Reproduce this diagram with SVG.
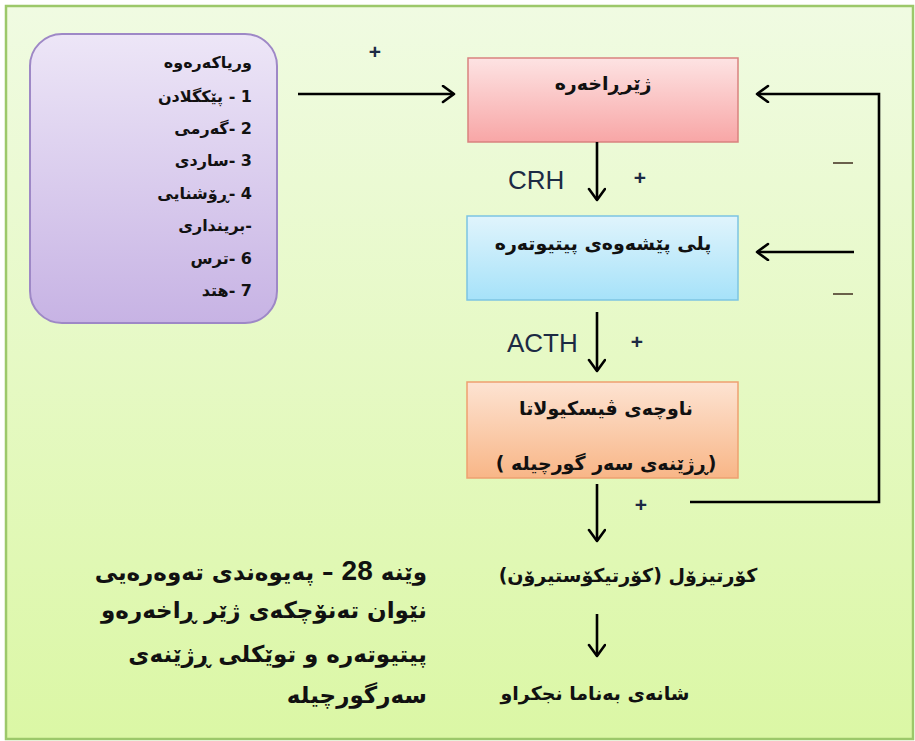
<svg xmlns="http://www.w3.org/2000/svg" width="915" height="741" viewBox="0 0 915 741">
<defs>
<linearGradient id="bg" x1="0" y1="0" x2="0" y2="1"><stop offset="0" stop-color="#f0fbe2"/><stop offset="1" stop-color="#dbf7a5"/></linearGradient>
<linearGradient id="gPurple" x1="0" y1="0" x2="0" y2="1"><stop offset="0" stop-color="#ede6f7"/><stop offset="1" stop-color="#c7b3e4"/></linearGradient>
<linearGradient id="gPink" x1="0" y1="0" x2="0" y2="1"><stop offset="0" stop-color="#fde3e3"/><stop offset="1" stop-color="#f8a6a6"/></linearGradient>
<linearGradient id="gBlue" x1="0" y1="0" x2="0" y2="1"><stop offset="0" stop-color="#e0f4fc"/><stop offset="1" stop-color="#a6e2f9"/></linearGradient>
<linearGradient id="gOrange" x1="0" y1="0" x2="0" y2="1"><stop offset="0" stop-color="#fde3d2"/><stop offset="1" stop-color="#f8b687"/></linearGradient>
<marker id="arr" markerUnits="userSpaceOnUse" markerWidth="20" markerHeight="20" refX="13" refY="9" orient="auto">
<path d="M2,1 L13,9 L2,17" fill="none" stroke="#000" stroke-width="2.6" stroke-linecap="round" stroke-linejoin="round"/>
</marker>
</defs>
<style>
.ku{font-family:"DejaVu Sans",sans-serif;font-weight:bold;font-size:16px;fill:#111;direction:rtl;unicode-bidi:embed}
.kb{font-family:"DejaVu Sans",sans-serif;font-weight:bold;font-size:19px;fill:#111;direction:rtl;unicode-bidi:embed}
.cap{font-family:"DejaVu Sans",sans-serif;font-weight:bold;font-size:23px;fill:#111;direction:rtl;unicode-bidi:embed}
.lat{font-family:"Liberation Sans",Arial,sans-serif;font-size:26px;fill:#1c2a44}
.pl{font-family:"Liberation Sans",Arial,sans-serif;font-size:21px;font-weight:bold;fill:#1c2a44}
.con{fill:none;stroke:#000;stroke-width:2.6}
.box{stroke-width:1.5}
</style>
<rect x="6" y="6" width="907" height="733" fill="url(#bg)" stroke="#9cc86a" stroke-width="2.5"/>

<g id="stimuli">
<rect x="30" y="34" width="247" height="289" rx="32" fill="url(#gPurple)" stroke="#9e88c6" stroke-width="2"/>
<text class="ku" x="252" y="68" text-anchor="start" direction="rtl">وریاکەرەوە</text>
<text class="ku" x="252" y="102" text-anchor="start" direction="rtl">1 - پێکگلادن</text>
<text class="ku" x="252" y="134" text-anchor="start" direction="rtl">2 -گەرمی</text>
<text class="ku" x="252" y="166" text-anchor="start" direction="rtl">3 -ساردی</text>
<text class="ku" x="252" y="199" text-anchor="start" direction="rtl">4 -ڕۆشنایی</text>
<text class="ku" x="252" y="231" text-anchor="start" direction="rtl">-برینداری</text>
<text class="ku" x="252" y="264" text-anchor="start" direction="rtl">6 -ترس</text>
<text class="ku" x="252" y="296" text-anchor="start" direction="rtl">7 -هتد</text>
</g>

<g id="hypothalamus">
<rect class="box" x="468" y="58" width="270" height="84" fill="url(#gPink)" stroke="#d9827f"/>
<text class="kb" x="603" y="90" text-anchor="middle" direction="rtl">ژێرڕاخەرە</text>
</g>

<g id="pituitary">
<rect class="box" x="467" y="216" width="271" height="84" fill="url(#gBlue)" stroke="#7cc4e2"/>
<text class="kb" x="603" y="250" text-anchor="middle" direction="rtl">پلی پێشەوەی پیتیوتەرە</text>
</g>

<g id="adrenal">
<rect class="box" x="467" y="382" width="271" height="96" fill="url(#gOrange)" stroke="#eea070"/>
<text class="kb" x="606" y="415" text-anchor="middle" direction="rtl">ناوچەی ڤیسکیولاتا</text>
<text class="kb" x="606" y="470" text-anchor="middle" direction="rtl">(ڕژێنەی سەر گورچیلە )</text>
</g>

<g id="cortisol">
<text class="kb" x="628" y="582" text-anchor="middle" direction="rtl">کۆرتیزۆل (کۆرتیکۆستیرۆن)</text>
</g>

<g id="target">
<text class="kb" x="595" y="700" text-anchor="middle" direction="rtl">شانەی بەناما نجکراو</text>
</g>

<g id="connectors">
<line class="con" x1="298" y1="94" x2="454" y2="94" marker-end="url(#arr)"/>
<line class="con" x1="597" y1="142" x2="597" y2="200" marker-end="url(#arr)"/>
<line class="con" x1="597" y1="312" x2="597" y2="371" marker-end="url(#arr)"/>
<line class="con" x1="597" y1="484" x2="597" y2="541" marker-end="url(#arr)"/>
<line class="con" x1="597" y1="614" x2="597" y2="656" marker-end="url(#arr)"/>
<path class="con" d="M690,502 H879 V94 H757" marker-end="url(#arr)"/>
<line class="con" x1="854" y1="252" x2="757" y2="252" marker-end="url(#arr)"/>
<line x1="833" y1="163" x2="853" y2="163" stroke="#4a3a2a" stroke-width="1.6"/>
<line x1="833" y1="294" x2="853" y2="294" stroke="#4a3a2a" stroke-width="1.6"/>
<text class="pl" x="375" y="59" text-anchor="middle">+</text>
<text class="pl" x="640" y="185" text-anchor="middle">+</text>
<text class="pl" x="637" y="349" text-anchor="middle">+</text>
<text class="pl" x="641" y="512" text-anchor="middle">+</text>
<text class="lat" x="508" y="189">CRH</text>
<text class="lat" x="507" y="352">ACTH</text>
</g>

<g id="caption">
<text class="cap" x="427" y="580" text-anchor="start" direction="rtl">وێنە <tspan font-family="Liberation Sans, Arial, sans-serif" font-size="28">28</tspan> – پەیوەندی تەوەرەیی</text>
<text class="cap" x="427" y="618" text-anchor="start" direction="rtl">نێوان تەنۆچکەی ژێر ڕاخەرەو</text>
<text class="cap" x="427" y="662" text-anchor="start" direction="rtl">پیتیوتەرە و توێکلی ڕژێنەی</text>
<text class="cap" x="427" y="703" text-anchor="start" direction="rtl">سەرگورچیلە</text>
</g>
</svg>
